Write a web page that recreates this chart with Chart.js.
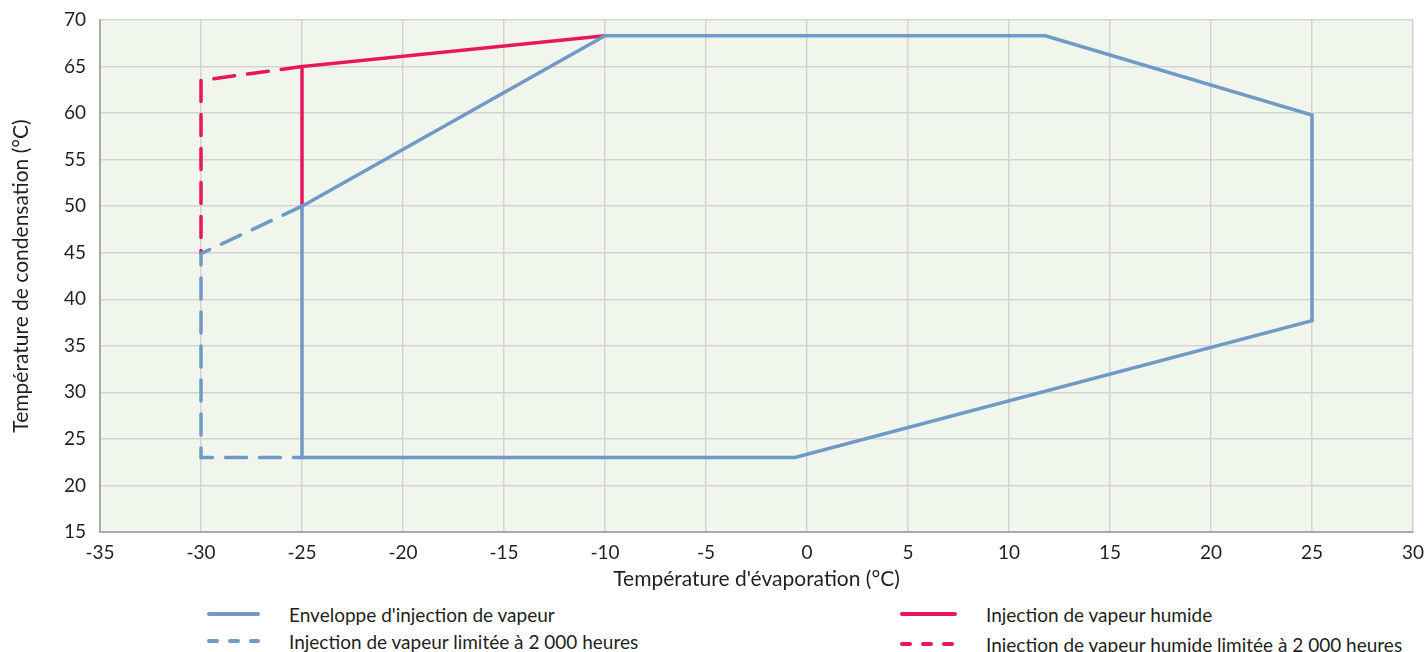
<!DOCTYPE html>
<html>
<head>
<meta charset="utf-8">
<script src="https://cdn.jsdelivr.net/npm/chart.js@4"></script>
<style>
  html, body { margin: 0; padding: 0; background: #fff; }
  body { width: 1426px; height: 652px; position: relative; overflow: hidden; font-family: Lato, sans-serif; color: #231f20; }
  #wrap { position: absolute; left: 0; top: 0; width: 1426px; height: 600px; }
  .item { position: absolute; height: 22px; display: flex; align-items: center; font-size: 19px; white-space: nowrap; }
  .item svg { margin-right: 29px; }
</style>
</head>
<body>
<div id="wrap"><canvas id="chart"></canvas></div>
<div id="legend"></div>
<script>
// Enveloppe (bleu, trait plein)
const envelopeX = [-25, -10, 11.8, 25, 25, -0.6, -25, -25];
const envelopeY = [50, 68.3, 68.3, 59.8, 37.7, 23, 23, 50];
// Injection limitée (bleu, tirets)
const limitedX = [-25, -30, -30, -25];
const limitedY = [50, 44.9, 23, 23];
// Injection de vapeur humide (rouge, trait plein)
const wetX = [-25, -25, -10];
const wetY = [50, 65, 68.3];
// Injection humide limitée (rouge, tirets)
const wetLimitedX = [-25, -30, -30];
const wetLimitedY = [65, 63.5, 44.9];

const labels = [
  "Enveloppe d'injection de vapeur",
  "Injection de vapeur limitée à 2 000 heures",
  "Injection de vapeur humide",
  "Injection de vapeur humide limitée à 2 000 heures"
];

const blue = "#7199c8";
const red = "#e8175d";

function points(xs, ys) {
  return xs.map((x, i) => ({ x: x, y: ys[i] }));
}

function makeSet(label, xs, ys, color, dash) {
  return {
    label: label,
    data: points(xs, ys),
    showLine: true,
    borderColor: color,
    backgroundColor: color,
    borderWidth: 3.5,
    borderDash: dash,
    borderCapStyle: dash.length ? "round" : "butt",
    borderJoinStyle: "miter",
    pointRadius: 0,
    tension: 0
  };
}

const datasets = [
  makeSet(labels[1], limitedX, limitedY, blue, [21, 13]),
  makeSet(labels[3], wetLimitedX, wetLimitedY, red, [21, 13]),
  makeSet(labels[0], envelopeX, envelopeY, blue, []),
  makeSet(labels[2], wetX, wetY, red, [])
];

const plotBackground = {
  id: "plotBackground",
  beforeDraw(chart) {
    const a = chart.chartArea;
    const ctx = chart.ctx;
    ctx.save();
    ctx.fillStyle = "#f1f6ec";
    ctx.fillRect(a.left, a.top, a.right - a.left, a.bottom - a.top);
    ctx.restore();
  }
};

Chart.defaults.font.family = "Lato, sans-serif";
Chart.defaults.color = "#231f20";

new Chart(document.getElementById("chart").getContext("2d"), {
  type: "scatter",
  data: { datasets: datasets },
  options: {
    responsive: true,
    maintainAspectRatio: false,
    animation: false,
    layout: { padding: { left: 0, top: 20, right: 13, bottom: 0 } },
    plugins: { legend: { display: false }, tooltip: { enabled: false } },
    scales: {
      x: {
        type: "linear",
        min: -35,
        max: 30,
        afterFit(axis) { axis.height = 68; axis.paddingRight = 0; axis.paddingLeft = 0; },
        ticks: { stepSize: 5, font: { size: 19 }, padding: 9, maxRotation: 0 },
        grid: { color: "#d3d3d3", lineWidth: 1.5, drawTicks: false },
        border: { color: "#aaaaaa", width: 2 },
        title: { display: true, text: "Température d'évaporation (°C)", font: { size: 21 }, padding: { top: 0, bottom: 8 } }
      },
      y: {
        type: "linear",
        min: 15,
        max: 70,
        afterFit(axis) { axis.width = 100; axis.paddingTop = 0; axis.paddingBottom = 0; },
        ticks: { stepSize: 5, font: { size: 19 }, padding: 14 },
        grid: { color: "#d3d3d3", lineWidth: 1.5, drawTicks: false },
        border: { color: "#aaaaaa", width: 2 },
        title: { display: true, text: "Température de condensation (°C)", font: { size: 21 }, padding: { top: 9, bottom: 0 } }
      }
    }
  },
  plugins: [plotBackground]
});

// Légende
const legendItems = [
  { label: labels[0], color: blue, dash: "", left: 207, top: 603 },
  { label: labels[1], color: blue, dash: "8 13", left: 207, top: 630 },
  { label: labels[2], color: red, dash: "", left: 900, top: 603 },
  { label: labels[3], color: red, dash: "8 13", left: 900, top: 633 }
];
const legend = document.getElementById("legend");
legendItems.forEach(function(it) {
  const div = document.createElement("div");
  div.className = "item";
  div.style.left = it.left + "px";
  div.style.top = it.top + "px";
  const w = it.color === red ? 57 : 53;
  div.innerHTML =
    '<svg width="' + w + '" height="8"><line x1="2" y1="4" x2="' + (w - 2) + '" y2="4" stroke="' + it.color +
    '" stroke-width="4" stroke-linecap="round"' + (it.dash ? ' stroke-dasharray="' + it.dash + '"' : "") + '/></svg>';
  const span = document.createElement("span");
  span.textContent = it.label;
  div.appendChild(span);
  legend.appendChild(div);
});
</script>
</body>
</html>
